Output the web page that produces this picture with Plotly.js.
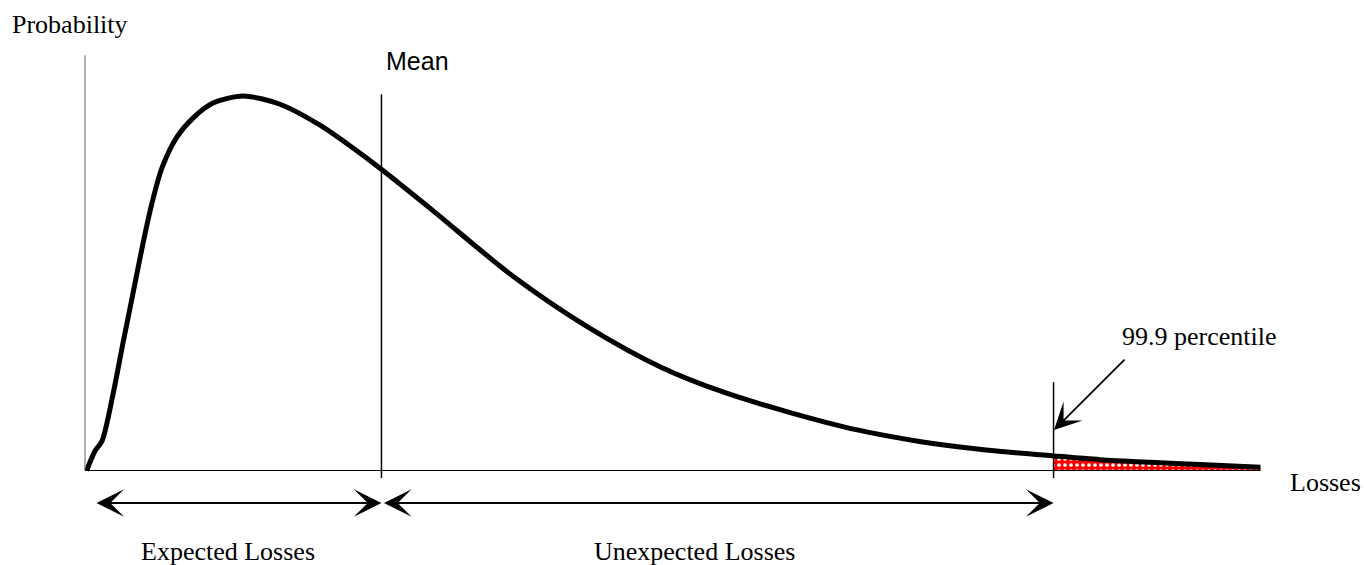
<!DOCTYPE html>
<html>
<head>
<meta charset="utf-8">
<script src="https://cdn.plot.ly/plotly-3.0.1.min.js"></script>
<style>html,body{margin:0;padding:0;background:#fff;}#chart{width:1364px;height:565px;}</style>
</head>
<body>
<div id="chart"></div>
<script>
// Loss distribution curve (x = losses, y = probability density, peak normalised to 1)
var lossX = [0.14, 0.85, 1.45, 2.38, 3.23, 4.09, 4.94, 5.70, 6.55, 7.83, 9.19, 10.89, 13.45, 16.60, 20.00, 22.81, 25.19, 29.53, 36.17, 42.81, 49.02, 54.55, 60.09, 65.62, 71.15, 76.68, 82.43, 86.38, 90.64, 94.89, 100.04];
var probY = [0.000, 0.052, 0.079, 0.203, 0.340, 0.474, 0.607, 0.714, 0.808, 0.891, 0.941, 0.981, 1.000, 0.978, 0.922, 0.861, 0.805, 0.696, 0.525, 0.383, 0.276, 0.207, 0.154, 0.109, 0.077, 0.055, 0.039, 0.029, 0.022, 0.016, 0.009];

// Key positions on the loss axis
var meanLoss = 25.23;
var percentile999 = 82.43;
var axisEnd = 100.04;
var yAxisTop = 1.109;

// Labels
var labels = {
  yTitle: "Probability",
  xTitle: "Losses",
  mean: "Mean",
  pct: "99.9 percentile",
  expected: "Expected Losses",
  unexpected: "Unexpected Losses"
};

var tailX = [], tailY = [];
for (var i = 0; i < lossX.length; i++) {
  if (lossX[i] >= percentile999 - 1e-9) { tailX.push(lossX[i]); tailY.push(probY[i]); }
}

var serif = "Liberation Serif, Times New Roman, serif";
var sans = "Liberation Sans, Arial, sans-serif";

var traces = [
  {
    x: tailX, y: tailY, type: "scatter", mode: "lines",
    line: {width: 0, shape: "spline", color: "rgba(0,0,0,0)"},
    fill: "tozeroy",
    fillcolor: "#ff0000",
    fillpattern: {shape: ".", bgcolor: "#ff0000", fgcolor: "#ffffff", size: 6, solidity: 0.3},
    hoverinfo: "skip"
  },
  {
    x: lossX, y: probY, type: "scatter", mode: "lines",
    line: {width: 5, color: "#000", shape: "spline", smoothing: 0.8},
    hoverinfo: "skip"
  }
];

var arrowY = -0.0868;

var layout = {
  width: 1364, height: 565,
  margin: {l: 0, r: 0, t: 0, b: 0},
  paper_bgcolor: "#fff", plot_bgcolor: "#fff",
  showlegend: false,
  xaxis: {range: [-7.234, 108.851], visible: false, fixedrange: true},
  yaxis: {range: [-0.25234, 1.25634], visible: false, fixedrange: true},
  shapes: [
    {type: "line", xref: "x", yref: "y", x0: 0, x1: 0, y0: 0, y1: yAxisTop, line: {color: "#666", width: 1}},
    {type: "line", xref: "x", yref: "y", x0: 0, x1: axisEnd, y0: 0, y1: 0, line: {color: "#000", width: 1.2}},
    {type: "line", xref: "x", yref: "y", x0: meanLoss, x1: meanLoss, y0: -0.020, y1: 1.005, line: {color: "#000", width: 1.5}},
    {type: "line", xref: "x", yref: "y", x0: percentile999, x1: percentile999, y0: -0.020, y1: 0.236, line: {color: "#000", width: 1.5}}
  ],
  annotations: [
    {x: -1.28, y: 1.192, xref: "x", yref: "y", text: labels.yTitle, showarrow: false, font: {family: serif, size: 26, color: "#000"}, xanchor: "center", yanchor: "middle"},
    {x: 28.34, y: 1.0935, xref: "x", yref: "y", text: labels.mean, showarrow: false, font: {family: sans, size: 25, color: "#000"}, xanchor: "center", yanchor: "middle"},
    {x: 94.89, y: 0.359, xref: "x", yref: "y", text: labels.pct, showarrow: false, font: {family: serif, size: 26, color: "#000"}, xanchor: "center", yanchor: "middle"},
    {x: 105.6, y: -0.0307, xref: "x", yref: "y", text: labels.xTitle, showarrow: false, font: {family: serif, size: 26, color: "#000"}, xanchor: "center", yanchor: "middle"},
    {x: 12.17, y: -0.2176, xref: "x", yref: "y", text: labels.expected, showarrow: false, font: {family: serif, size: 26, color: "#000"}, xanchor: "center", yanchor: "middle"},
    {x: 51.87, y: -0.2176, xref: "x", yref: "y", text: labels.unexpected, showarrow: false, font: {family: serif, size: 26, color: "#000"}, xanchor: "center", yanchor: "middle"},
    // double-headed range arrows
    {x: meanLoss, y: arrowY, ax: 0.85, ay: arrowY, xref: "x", yref: "y", axref: "x", ayref: "y", text: "", showarrow: true,
     arrowhead: 3, startarrowhead: 3, arrowside: "end+start", arrowsize: 2.3, startarrowsize: 2.3, arrowwidth: 2, arrowcolor: "#000", standoff: 0, startstandoff: 0},
    {x: percentile999, y: arrowY, ax: 25.32, ay: arrowY, xref: "x", yref: "y", axref: "x", ayref: "y", text: "", showarrow: true,
     arrowhead: 3, startarrowhead: 3, arrowside: "end+start", arrowsize: 2.3, startarrowsize: 2.3, arrowwidth: 2, arrowcolor: "#000", standoff: 0, startstandoff: 0},
    // 99.9 percentile pointer
    {x: 82.47, y: 0.108, ax: 88.60, ay: 0.300, xref: "x", yref: "y", axref: "x", ayref: "y", text: "", showarrow: true,
     arrowhead: 3, arrowsize: 2.5, arrowwidth: 1.8, arrowcolor: "#000", standoff: 0}
  ]
};

Plotly.newPlot("chart", traces, layout, {displayModeBar: false, staticPlot: true});
</script>
</body>
</html>
